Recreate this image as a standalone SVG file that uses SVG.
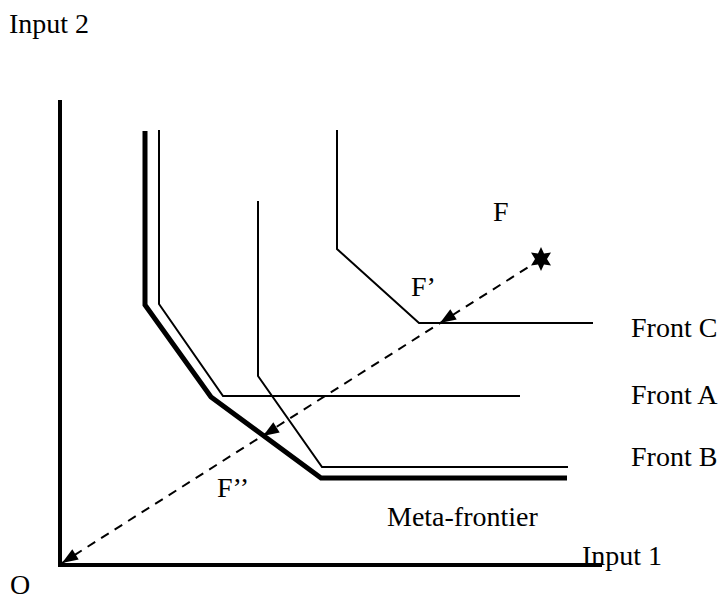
<svg xmlns="http://www.w3.org/2000/svg" width="721" height="599" viewBox="0 0 721 599">
<defs>
<style>
text{font-family:"Liberation Serif","Times New Roman",serif;font-size:28px;fill:#000}
.thin{fill:none;stroke:#000;stroke-width:2}
.thick{fill:none;stroke:#000;stroke-width:5}
.axis{fill:none;stroke:#000;stroke-width:4}
.dash{fill:none;stroke:#000;stroke-width:2;stroke-dasharray:9 7}
.head{fill:#000}
</style>
</defs>
<rect width="721" height="599" fill="#fff"/>
<g id="axes">
<path class="axis" d="M60,100 V565 H602"/>
</g>
<g id="meta-frontier">
<path class="thick" d="M145,131 V305 L211,397 L321,478 H567"/>
</g>
<g id="front-a">
<path class="thin" d="M159,130 V304 L223,396 H520"/>
</g>
<g id="front-b">
<path class="thin" d="M258,201 V376 L322,467 H568"/>
</g>
<g id="front-c">
<path class="thin" d="M337,130 V249 L419,323 H593"/>
</g>
<g id="connectors">
<path class="dash" d="M541,259 L62,563"/>
<polygon class="head" points="440,323 450.3,309.3 456.7,319.5"/>
<polygon class="head" points="263,436 273.3,422.3 279.7,432.5"/>
<polygon class="head" points="62,563 72.3,549.3 78.7,559.5"/>
<polygon class="head" points="541,247 544,253.5 551,252.5 547,259 551,265.5 544,264.5 541,271 538,264.5 531,265.5 535,259 531,252.5 538,253.5"/>
</g>
<g id="labels">
<text x="9" y="33">Input 2</text>
<text x="493" y="221">F</text>
<text x="411" y="296">F’</text>
<text x="217" y="497">F’’</text>
<text x="387" y="526">Meta-frontier</text>
<text x="631" y="337">Front C</text>
<text x="631" y="404">Front A</text>
<text x="631" y="466">Front B</text>
<text x="582" y="565">Input 1</text>
<text x="10" y="594">O</text>
</g>
</svg>
